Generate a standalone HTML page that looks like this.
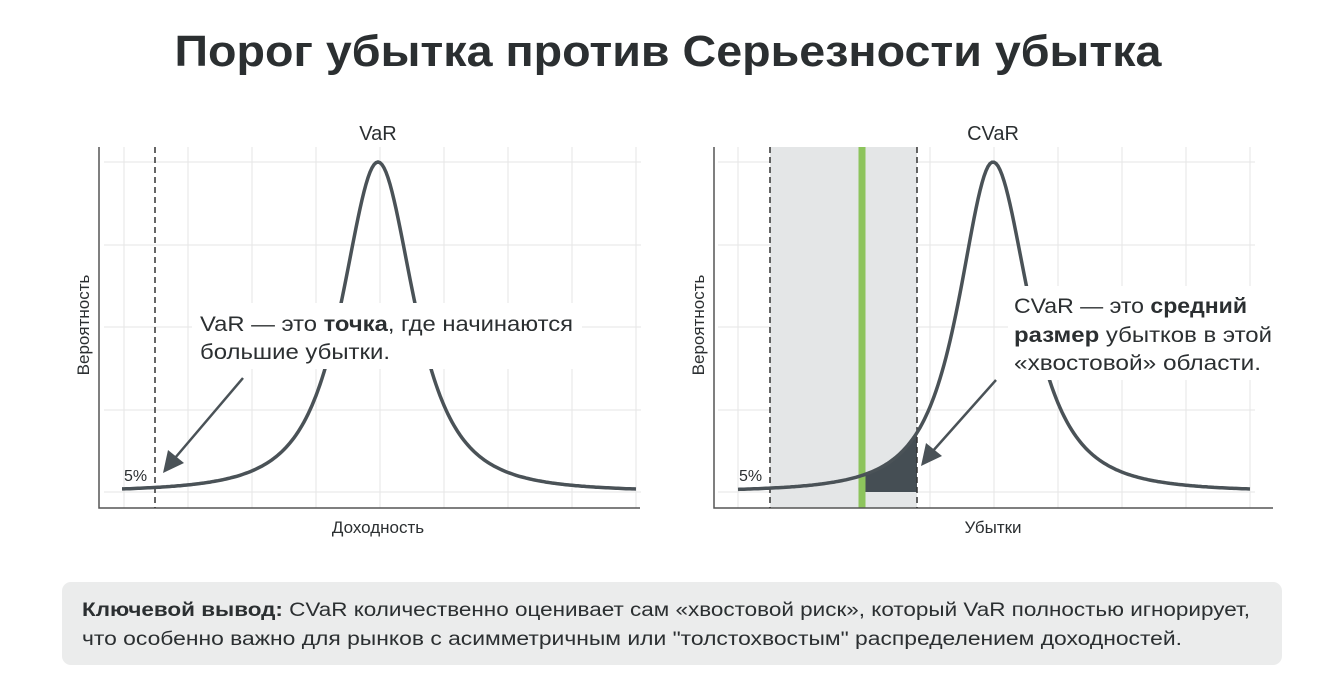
<!DOCTYPE html>
<html><head><meta charset="utf-8">
<style>
html,body{margin:0;padding:0;background:#fff;}
svg{display:block;}
text{font-family:"Liberation Sans","DejaVu Sans",sans-serif;fill:#2b2f31;}
</style></head>
<body>
<svg id="s" width="1336" height="679" viewBox="0 0 1336 679" xmlns="http://www.w3.org/2000/svg">
<text x="668" y="66" text-anchor="middle" font-size="44" font-weight="bold" textLength="987" lengthAdjust="spacingAndGlyphs">Порог убытка против Серьезности убытка</text>

<g id="grid1" stroke="#e6e6e6" stroke-width="1"></g>
<g id="grid2" stroke="#e6e6e6" stroke-width="1"></g>

<rect x="770" y="147" width="147" height="361" fill="#e4e6e7"/>
<path id="dark" fill="#454e54"/>
<line x1="862" y1="147" x2="862" y2="508" stroke="#8dc45c" stroke-width="7"/>

<!-- axes -->
<polyline points="99,147 99,508 640,508" fill="none" stroke="#555" stroke-width="1.5"/>
<polyline points="714,147 714,508 1273,508" fill="none" stroke="#555" stroke-width="1.5"/>

<line x1="155" y1="147" x2="155" y2="508" stroke="#333" stroke-width="1.5" stroke-dasharray="6,4"/>
<line x1="770" y1="147" x2="770" y2="508" stroke="#333" stroke-width="1.5" stroke-dasharray="6,4"/>
<line x1="917" y1="147" x2="917" y2="508" stroke="#333" stroke-width="1.5" stroke-dasharray="6,4"/>

<path id="c1" fill="none" stroke="#4a5257" stroke-width="3.5"/>
<path id="c2" fill="none" stroke="#4a5257" stroke-width="3.5"/>

<text x="378" y="140" text-anchor="middle" font-size="20">VaR</text>
<text x="993" y="140" text-anchor="middle" font-size="20">CVaR</text>
<text x="378" y="533" text-anchor="middle" font-size="17">Доходность</text>
<text x="993" y="533" text-anchor="middle" font-size="17">Убытки</text>
<text transform="translate(89,325) rotate(-90)" text-anchor="middle" font-size="17">Вероятность</text>
<text transform="translate(704,325) rotate(-90)" text-anchor="middle" font-size="17">Вероятность</text>
<text x="124" y="481" font-size="16">5%</text>
<text x="739" y="481" font-size="16">5%</text>

<!-- left callout -->
<rect x="192" y="303" width="390" height="66" fill="#fff"/>
<text x="200" y="331" font-size="21" textLength="373" lengthAdjust="spacingAndGlyphs">VaR — это <tspan font-weight="bold">точка</tspan>, где начинаются</text>
<text x="200" y="359" font-size="21" textLength="190" lengthAdjust="spacingAndGlyphs">большие убытки.</text>
<line x1="243" y1="378" x2="175" y2="458" stroke="#4a5257" stroke-width="2.5"/>
<polygon points="163,473 168,450 184,463" fill="#4a5257"/>

<!-- right callout -->
<rect x="1008" y="286" width="268" height="94" fill="#fff"/>
<text x="1014" y="313" font-size="21" textLength="233" lengthAdjust="spacingAndGlyphs">CVaR — это <tspan font-weight="bold">средний</tspan></text>
<text x="1014" y="342" font-size="21" textLength="258" lengthAdjust="spacingAndGlyphs"><tspan font-weight="bold">размер</tspan> убытков в этой</text>
<text x="1014" y="370" font-size="21" textLength="247" lengthAdjust="spacingAndGlyphs">«хвостовой» области.</text>
<line x1="996" y1="380" x2="932" y2="452" stroke="#4a5257" stroke-width="2.5"/>
<polygon points="921,466 926,443 942,456" fill="#4a5257"/>

<!-- bottom box -->
<rect x="62" y="582" width="1220" height="83" rx="9" fill="#ebecec"/>
<text x="82" y="616" font-size="19" textLength="1168" lengthAdjust="spacingAndGlyphs"><tspan font-weight="bold">Ключевой вывод:</tspan> CVaR количественно оценивает сам «хвостовой риск», который VaR полностью игнорирует,</text>
<text x="82" y="645" font-size="19" textLength="1100" lengthAdjust="spacingAndGlyphs">что особенно важно для рынков с асимметричным или "толстохвостым" распределением доходностей.</text>
</svg>
<script>
(function(){
var NS="http://www.w3.org/2000/svg";
function grid(id,x0,step,n){var g=document.getElementById(id);
 for(var i=0;i<n;i++){var l=document.createElementNS(NS,"line");var x=x0+i*step;
  l.setAttribute("x1",x);l.setAttribute("x2",x);l.setAttribute("y1",147);l.setAttribute("y2",508);g.appendChild(l);}
 [162,245,327,410,492].forEach(function(y){var l=document.createElementNS(NS,"line");
  l.setAttribute("x1",x0-20);l.setAttribute("x2",x0+step*(n-1)+5);l.setAttribute("y1",y);l.setAttribute("y2",y);g.appendChild(l);});}
grid("grid1",124,64,9);grid("grid2",738,64,9);
function f(dx,w){return Math.pow(1+(dx/w)*(dx/w),-1.5);}
var d="";for(var x=122;x<=636;x+=2){var y=492-330*f(x-378,55);d+=(d?"L":"M")+x+","+y.toFixed(1);}
document.getElementById("c1").setAttribute("d",d);
function g2(x){var dx=x-993;return 492-330*f(dx,dx<0?52:55);}
d="";for(var x=738;x<=1250;x+=2){d+=(d?"L":"M")+x+","+g2(x).toFixed(1);}
document.getElementById("c2").setAttribute("d",d);
d="M862,492";for(var x=862;x<=917;x+=1){d+="L"+x+","+g2(x).toFixed(1);}d+="L917,492Z";
document.getElementById("dark").setAttribute("d",d);
})();
</script>
</body></html>
